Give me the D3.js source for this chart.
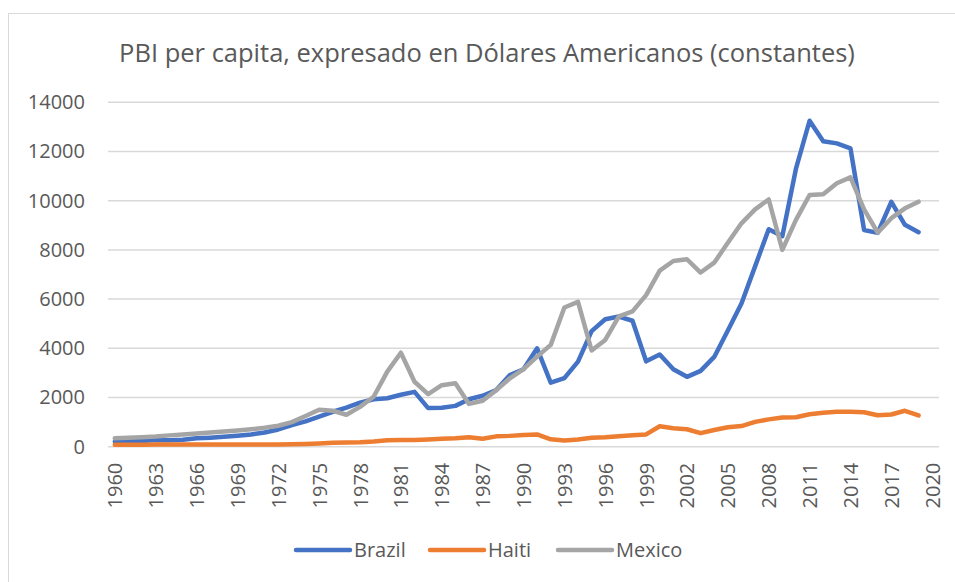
<!DOCTYPE html>
<html>
<head>
<meta charset="utf-8">
<script src="https://cdn.jsdelivr.net/npm/d3@7"></script>
<style>
  body { margin: 0; background: #fff; }
  text { font-family: "Open Sans", sans-serif; fill: #595959; }
</style>
</head>
<body>
<svg width="955" height="582"></svg>
<script>
// years on the category axis (2020 has no data)
var years = d3.range(1960, 2021);
var dataYears = d3.range(1960, 2020);

var brazil = [210, 215, 235, 270, 265, 285, 340, 365, 400, 445, 500, 580, 700, 880, 1030, 1220, 1420, 1590, 1790, 1930, 1970,
  2110, 2230, 1570, 1580, 1660, 1930, 2070, 2300, 2910, 3150, 4000, 2600, 2790, 3460, 4700, 5180, 5290, 5120, 3470,
  3750, 3150, 2840, 3080, 3650, 4720, 5820, 7330, 8840, 8560, 11300, 13250, 12420, 12330, 12130, 8810, 8690, 9950, 9020, 8720];
var haiti = [80, 80, 80, 85, 85, 85, 85, 85, 85, 90, 90, 90, 90, 95, 110, 130, 160, 175, 185, 210, 260,
  270, 270, 290, 320, 340, 380, 320, 420, 440, 480, 500, 300, 250, 290, 360, 380, 420, 470, 500,
  830, 750, 710, 550, 680, 790, 840, 1010, 1110, 1190, 1200, 1320, 1380, 1420, 1420, 1400, 1280, 1310, 1460, 1270];
var mexico = [340, 360, 380, 410, 460, 500, 540, 580, 620, 660, 710, 770, 850, 1000, 1250, 1500, 1460, 1300, 1620, 2030, 3050,
  3820, 2640, 2140, 2500, 2580, 1740, 1870, 2300, 2780, 3150, 3660, 4140, 5660, 5890, 3910, 4340, 5300, 5500, 6160,
  7160, 7550, 7620, 7080, 7480, 8290, 9080, 9650, 10050, 8000, 9220, 10230, 10260, 10710, 10950, 9650, 8700, 9290, 9690, 9960];

var series = [
  { name: "Brazil", values: brazil, color: "#4472C4" },
  { name: "Haiti", values: haiti, color: "#ED7D31" },
  { name: "Mexico", values: mexico, color: "#A5A5A5" }
];

var yTicks = [0, 2000, 4000, 6000, 8000, 10000, 12000, 14000];
var xLabels = years.filter(function(d) { return (d - 1960) % 3 === 0; });

var svg = d3.select("svg");

// chart area border (only top and left show in the frame)
svg.append("rect")
  .attr("x", 8.5).attr("y", 13.5)
  .attr("width", 1000).attr("height", 1000)
  .attr("fill", "none")
  .attr("stroke", "#d9d9d9")
  .attr("stroke-width", 1);

var plot = { left: 108, right: 939, top: 102.3, bottom: 446.7 };

var x = d3.scalePoint().domain(years).range([plot.left, plot.right]).padding(0.5);
var y = d3.scaleLinear().domain([0, 14000]).range([plot.bottom, plot.top]);

svg.append("text")
  .attr("x", 487).attr("y", 62)
  .attr("text-anchor", "middle")
  .style("font-size", "25.5px")
  .text("PBI per capita, expresado en Dólares Americanos (constantes)");

// gridlines
svg.append("g")
  .selectAll("line")
  .data(yTicks)
  .join("line")
  .attr("x1", plot.left).attr("x2", plot.right)
  .attr("y1", function(d) { return y(d); })
  .attr("y2", function(d) { return y(d); })
  .attr("stroke", "#d9d9d9")
  .attr("stroke-width", 1.5);

// y axis labels
var yAxis = svg.append("g")
  .attr("transform", "translate(" + (plot.left - 23) + ",0)")
  .call(d3.axisLeft(y).tickValues(yTicks).tickFormat(d3.format("d")).tickSize(0).tickPadding(0));
yAxis.select(".domain").remove();
yAxis.selectAll("text").style("font-size", "20px").attr("fill", "#595959");

// x axis labels, rotated
var xAxis = svg.append("g")
  .attr("transform", "translate(0," + plot.bottom + ")")
  .call(d3.axisBottom(x).tickValues(xLabels).tickSize(0).tickPadding(0));
xAxis.select(".domain").remove();
xAxis.selectAll("text")
  .style("font-size", "20px")
  .attr("fill", "#595959")
  .attr("text-anchor", "end")
  .attr("transform", "translate(0,16) rotate(-90)")
  .attr("dy", "0.35em")
  .attr("y", 0)
  .attr("x", 0);

var line = d3.line()
  .x(function(d, i) { return x(dataYears[i]); })
  .y(function(d) { return y(d); });

svg.append("g")
  .selectAll("path")
  .data(series)
  .join("path")
  .attr("d", function(d) { return line(d.values); })
  .attr("fill", "none")
  .attr("stroke", function(d) { return d.color; })
  .attr("stroke-width", 4.5)
  .attr("stroke-linejoin", "round")
  .attr("stroke-linecap", "round");

// legend
var legendX = [296, 430, 558];
var legend = svg.append("g")
  .selectAll("g")
  .data(series)
  .join("g")
  .attr("transform", function(d, i) { return "translate(" + legendX[i] + ",550)"; });

legend.append("line")
  .attr("x1", 0).attr("x2", 54)
  .attr("stroke", function(d) { return d.color; })
  .attr("stroke-width", 4.5)
  .attr("stroke-linecap", "round");

legend.append("text")
  .attr("x", 58)
  .attr("dy", "0.35em")
  .style("font-size", "20px")
  .text(function(d) { return d.name; });
</script>
</body>
</html>
